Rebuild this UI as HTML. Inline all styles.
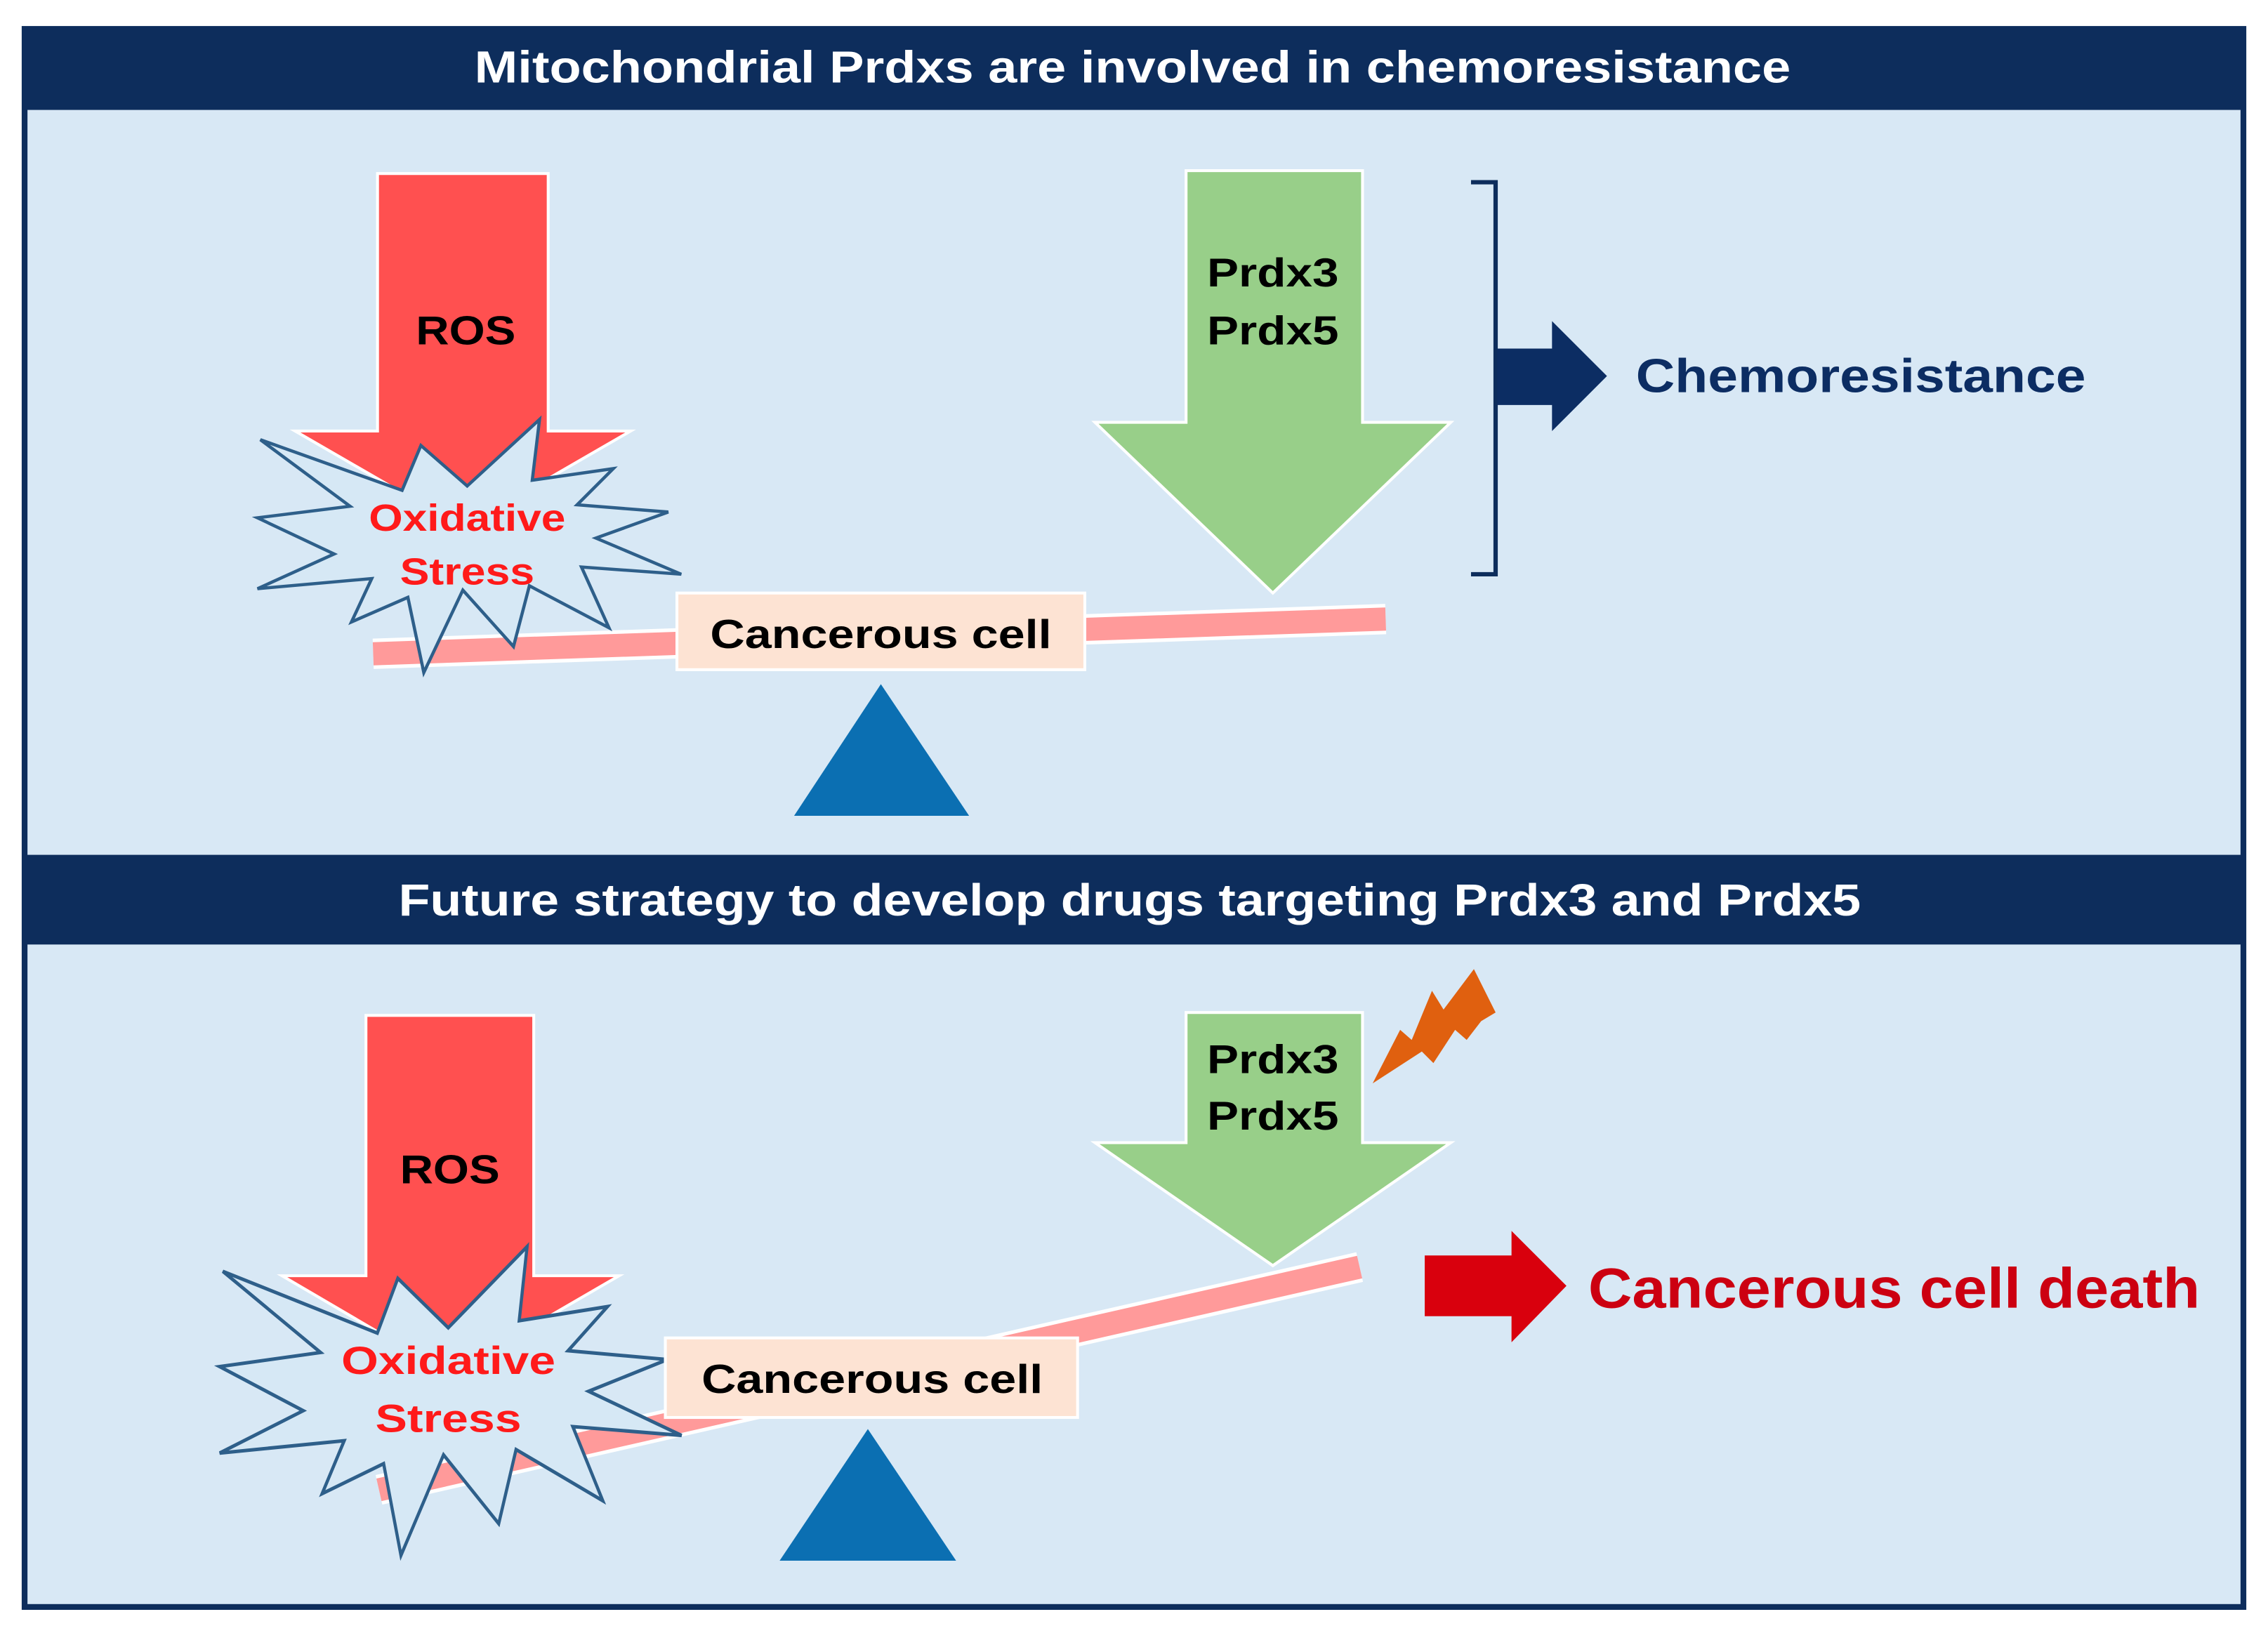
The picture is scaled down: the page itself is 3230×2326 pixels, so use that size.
<!DOCTYPE html>
<html><head><meta charset="utf-8"><style>
html,body{margin:0;padding:0;background:#fff;}
svg{display:block;}
text{font-family:"Liberation Sans",Arial,sans-serif;font-weight:bold;}
</style></head><body>
<svg width="3230" height="2326" viewBox="0 0 1568 1129" preserveAspectRatio="none" xmlns="http://www.w3.org/2000/svg">
<rect x="0" y="0" width="1568" height="1129" fill="#fff"/>
<rect x="15" y="18" width="1538" height="1095" fill="#0d2d5c"/>
<rect x="19" y="76" width="1530" height="515" fill="#d8e8f5"/>
<rect x="19" y="653" width="1530" height="456" fill="#d8e8f5"/>
<text x="783" y="57" fill="#fff" font-size="31" text-anchor="middle" textLength="910" lengthAdjust="spacingAndGlyphs">Mitochondrial Prdxs are involved in chemoresistance</text>
<text x="781" y="633" fill="#fff" font-size="31" text-anchor="middle" textLength="1011" lengthAdjust="spacingAndGlyphs">Future strategy to develop drugs targeting Prdx3 and Prdx5</text>

<polygon points="261,120 379,120 379,298 436,298 320,365 204,298 261,298" fill="#ff5050" stroke="#fff" stroke-width="2"/>
<text x="322" y="238" font-size="28" fill="#000" text-anchor="middle" textLength="69" lengthAdjust="spacingAndGlyphs">ROS</text>
<line x1="258" y1="452" x2="958" y2="428" stroke="#fff" stroke-width="21"/>
<line x1="258" y1="452" x2="958" y2="428" stroke="#ff9a9a" stroke-width="16"/>
<polygon points="180,304 242,350 178,358 231,383 178,407 257,400 243,430 282,413 293,465 320,408 355,447 366,405 421,434 402,392 471,397 412,372 462,354 399,349 424,324 368,332 373,290 323,336 291,308 278,339" fill="#d6e8f5" stroke="#2e5f8a" stroke-width="2.2" stroke-linejoin="miter"/>
<text x="323" y="367" font-size="26" fill="#ff1a1a" text-anchor="middle" textLength="136" lengthAdjust="spacingAndGlyphs">Oxidative</text>
<text x="323" y="404" font-size="26" fill="#ff1a1a" text-anchor="middle" textLength="93" lengthAdjust="spacingAndGlyphs">Stress</text>
<rect x="468" y="410" width="282" height="53" fill="#fde3d3" stroke="#fff" stroke-width="2"/>
<text x="609" y="448" font-size="28" fill="#000" text-anchor="middle" textLength="236" lengthAdjust="spacingAndGlyphs">Cancerous cell</text>
<polygon points="549,564 670,564 609,473" fill="#0b6fb2"/>
<polygon points="820,118 942,118 942,292 1003,292 880,410 757,292 820,292" fill="#98cf89" stroke="#fff" stroke-width="2"/>
<text x="880" y="198" font-size="28" fill="#000" text-anchor="middle" textLength="91" lengthAdjust="spacingAndGlyphs">Prdx3</text>
<text x="880" y="238" font-size="28" fill="#000" text-anchor="middle" textLength="91" lengthAdjust="spacingAndGlyphs">Prdx5</text>
<polyline points="1017,126 1034,126 1034,397 1017,397" fill="none" stroke="#0d2d5c" stroke-width="3"/>
<polygon points="1035,241 1073,241 1073,222 1111,260 1073,298 1073,280 1035,280" fill="#0c2d63"/>
<text x="1131" y="271" font-size="33" fill="#0c2d63" textLength="311" lengthAdjust="spacingAndGlyphs">Chemoresistance</text>

<polygon points="253,702 369,702 369,882 428,882 311,950 195,882 253,882" fill="#ff5050" stroke="#fff" stroke-width="2"/>
<text x="311" y="818" font-size="28" fill="#000" text-anchor="middle" textLength="69" lengthAdjust="spacingAndGlyphs">ROS</text>
<line x1="262" y1="1030" x2="940" y2="876" stroke="#fff" stroke-width="21"/>
<line x1="262" y1="1030" x2="940" y2="876" stroke="#ff9a9a" stroke-width="16"/>
<g transform="translate(311,968) scale(1.09,1.22) translate(-324,-377)">
<polygon points="180,304 242,350 178,358 231,383 178,407 257,400 243,430 282,413 293,465 320,408 355,447 366,405 421,434 402,392 471,397 412,372 462,354 399,349 424,324 368,332 373,290 323,336 291,308 278,339" fill="#d6e8f5" stroke="#2e5f8a" stroke-width="2" stroke-linejoin="miter"/>
</g>
<text x="310" y="950" font-size="27" fill="#ff1a1a" text-anchor="middle" textLength="148" lengthAdjust="spacingAndGlyphs">Oxidative</text>
<text x="310" y="990" font-size="27" fill="#ff1a1a" text-anchor="middle" textLength="101" lengthAdjust="spacingAndGlyphs">Stress</text>
<rect x="460" y="925" width="285" height="55" fill="#fde3d3" stroke="#fff" stroke-width="2"/>
<text x="603" y="963" font-size="28" fill="#000" text-anchor="middle" textLength="236" lengthAdjust="spacingAndGlyphs">Cancerous cell</text>
<polygon points="539,1079 661,1079 600,988" fill="#0b6fb2"/>
<polygon points="820,700 942,700 942,790 1003,790 880,875 757,790 820,790" fill="#98cf89" stroke="#fff" stroke-width="2"/>
<text x="880" y="742" font-size="28" fill="#000" text-anchor="middle" textLength="91" lengthAdjust="spacingAndGlyphs">Prdx3</text>
<text x="880" y="781" font-size="28" fill="#000" text-anchor="middle" textLength="91" lengthAdjust="spacingAndGlyphs">Prdx5</text>
<polygon points="949,749 968,712 976,719 990,685 998,698 1019,670 1034,700 1024,706 1014,719 1006,712 991,735 983,727" fill="#e0600f"/>
<polygon points="985,868 1045,868 1045,851 1083,889 1045,928 1045,910 985,910" fill="#d9000d"/>
<text x="1098" y="904" font-size="39" fill="#cc0011" textLength="423" lengthAdjust="spacingAndGlyphs">Cancerous cell death</text>
</svg>
</body></html>
